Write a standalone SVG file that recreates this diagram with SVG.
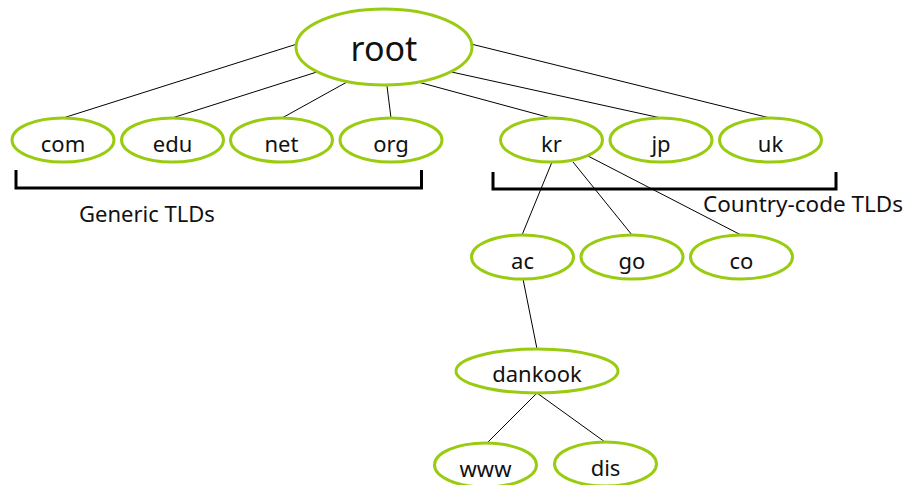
<svg xmlns="http://www.w3.org/2000/svg" width="908" height="485" viewBox="0 0 908 485">
<style>
.n ellipse{fill:#fff;stroke:#99CC11;stroke-width:3}
.n text{font-family:"Noto Sans","Open Sans","DejaVu Sans",sans-serif;font-size:22px;fill:#111;text-anchor:middle}
.c line{stroke:#000;stroke-width:1}
.br{fill:none;stroke:#000;stroke-width:3}
.lbl{font-family:"Noto Sans","Open Sans","DejaVu Sans",sans-serif;font-size:22px;fill:#111}
</style>
<rect width="908" height="485" fill="#fff"/>
<g id="connectors" class="c">
<line x1="63" y1="118" x2="297" y2="44"/>
<line x1="172" y1="118" x2="320" y2="71"/>
<line x1="282" y1="118" x2="347" y2="82"/>
<line x1="391" y1="118" x2="387" y2="86"/>
<line x1="551" y1="118" x2="418" y2="82"/>
<line x1="661" y1="118" x2="447" y2="71"/>
<line x1="770" y1="118" x2="471" y2="44"/>
<line x1="552" y1="162" x2="522" y2="235"/>
<line x1="573" y1="162" x2="632" y2="235"/>
<line x1="588" y1="156" x2="741" y2="235"/>
<line x1="523" y1="279" x2="537" y2="349"/>
<line x1="537" y1="393" x2="487" y2="443"/>
<line x1="537" y1="393" x2="605" y2="442"/>
</g>
<g id="root" class="n"><ellipse cx="384" cy="47" rx="88" ry="38"/><text x="384" y="61" style="font-size:34px">root</text></g>
<g id="com" class="n"><ellipse cx="63" cy="140" rx="51" ry="22"/><text x="63" y="152">com</text></g>
<g id="edu" class="n"><ellipse cx="172.5" cy="140" rx="51" ry="22"/><text x="172.5" y="152">edu</text></g>
<g id="net" class="n"><ellipse cx="281.5" cy="140" rx="51" ry="22"/><text x="281.5" y="152">net</text></g>
<g id="org" class="n"><ellipse cx="391" cy="140" rx="51" ry="22"/><text x="391" y="152">org</text></g>
<g id="kr" class="n"><ellipse cx="551.5" cy="140" rx="51" ry="22"/><text x="551.5" y="152">kr</text></g>
<g id="jp" class="n"><ellipse cx="661" cy="140" rx="51" ry="22"/><text x="661" y="152">jp</text></g>
<g id="uk" class="n"><ellipse cx="770.5" cy="140" rx="51" ry="22"/><text x="770.5" y="152">uk</text></g>
<g id="ac" class="n"><ellipse cx="522.5" cy="257" rx="51" ry="22"/><text x="522.5" y="269">ac</text></g>
<g id="go" class="n"><ellipse cx="632" cy="257" rx="51" ry="22"/><text x="632" y="269">go</text></g>
<g id="co" class="n"><ellipse cx="741.5" cy="257" rx="51" ry="22"/><text x="741.5" y="269">co</text></g>
<g id="dankook" class="n"><ellipse cx="537" cy="371" rx="81" ry="22"/><text x="537" y="382">dankook</text></g>
<g id="www" class="n"><ellipse cx="485.5" cy="465" rx="51" ry="22"/><text x="485.5" y="477">www</text></g>
<g id="dis" class="n"><ellipse cx="605.5" cy="464" rx="51" ry="22"/><text x="605.5" y="476">dis</text></g>
<g id="generic">
<path class="br" d="M16 170 V188 H421.5 V170"/>
<text class="lbl" x="79" y="222">Generic TLDs</text>
</g>
<g id="country">
<path class="br" d="M493 172 V189 H836 V172"/>
<text class="lbl" x="703" y="212" style="font-size:22.5px">Country-code TLDs</text>
</g>
</svg>
